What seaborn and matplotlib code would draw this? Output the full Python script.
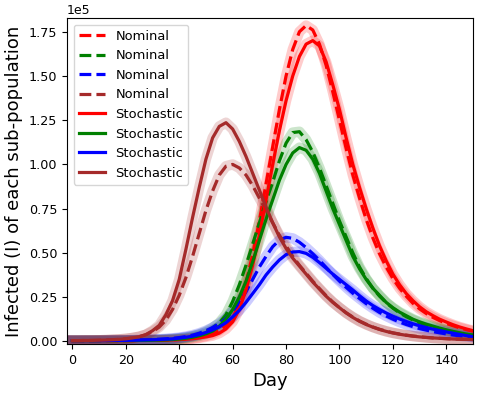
import numpy as np
import matplotlib
matplotlib.use('Agg')
import matplotlib.pyplot as plt
import seaborn as sns
from matplotlib.ticker import MultipleLocator

# days sampled every 2.5, values in units of 1e5 people
days = np.arange(0, 150.1, 2.5)
SCALE = 1e5

red_nominal = [0.004, 0.004, 0.004, 0.004, 0.004, 0.004, 0.004, 0.004, 0.004, 0.004,
               0.005, 0.005, 0.006, 0.006, 0.007, 0.008, 0.010, 0.013, 0.017, 0.022,
               0.030, 0.042, 0.062, 0.092, 0.135, 0.21, 0.33, 0.49, 0.68, 0.89,
               1.10, 1.31, 1.50, 1.65, 1.75, 1.785, 1.76, 1.68, 1.56, 1.41,
               1.25, 1.09, 0.94, 0.81, 0.69, 0.585, 0.495, 0.42, 0.355, 0.30,
               0.255, 0.215, 0.183, 0.157, 0.135, 0.117, 0.101, 0.088, 0.076, 0.066,
               0.057]
green_nominal = [0.004, 0.004, 0.004, 0.004, 0.004, 0.004, 0.004, 0.004, 0.004, 0.005,
                 0.005, 0.006, 0.007, 0.008, 0.010, 0.012, 0.016, 0.021, 0.029, 0.040,
                 0.055, 0.076, 0.105, 0.15, 0.225, 0.32, 0.43, 0.55, 0.67, 0.79,
                 0.90, 1.02, 1.12, 1.18, 1.185, 1.14, 1.07, 0.98, 0.88, 0.78,
                 0.68, 0.59, 0.50, 0.42, 0.355, 0.30, 0.255, 0.218, 0.187, 0.161,
                 0.139, 0.121, 0.105, 0.091, 0.079, 0.069, 0.060, 0.052, 0.045, 0.039,
                 0.034]
blue_nominal = [0.004, 0.004, 0.004, 0.004, 0.004, 0.005, 0.005, 0.005, 0.006, 0.007,
                0.008, 0.009, 0.010, 0.012, 0.014, 0.017, 0.021, 0.027, 0.035, 0.046,
                0.060, 0.078, 0.10, 0.13, 0.17, 0.22, 0.28, 0.35, 0.42, 0.48,
                0.535, 0.572, 0.588, 0.582, 0.56, 0.53, 0.495, 0.458, 0.418, 0.378,
                0.34, 0.305, 0.272, 0.242, 0.213, 0.187, 0.163, 0.143, 0.125, 0.109,
                0.095, 0.083, 0.072, 0.063, 0.055, 0.048, 0.042, 0.036, 0.031, 0.027,
                0.023]
brown_nominal = [0.004, 0.004, 0.005, 0.005, 0.006, 0.007, 0.009, 0.011, 0.014, 0.019,
                 0.026, 0.037, 0.055, 0.08, 0.12, 0.18, 0.26, 0.36, 0.48, 0.61,
                 0.74, 0.85, 0.94, 0.99, 1.00, 0.98, 0.94, 0.88, 0.81, 0.74,
                 0.67, 0.60, 0.54, 0.48, 0.43, 0.385, 0.34, 0.298, 0.258, 0.222,
                 0.19, 0.162, 0.137, 0.115, 0.097, 0.081, 0.068, 0.057, 0.048, 0.041,
                 0.035, 0.030, 0.026, 0.022, 0.019, 0.017, 0.015, 0.013, 0.012, 0.011,
                 0.010]

red_stoch = [0.004, 0.004, 0.004, 0.004, 0.004, 0.004, 0.004, 0.004, 0.004, 0.004,
             0.005, 0.005, 0.006, 0.006, 0.007, 0.008, 0.010, 0.012, 0.015, 0.019,
             0.025, 0.032, 0.046, 0.07, 0.11, 0.18, 0.29, 0.43, 0.60, 0.80,
             1.00, 1.19, 1.36, 1.50, 1.61, 1.68, 1.70, 1.67, 1.58, 1.45,
             1.31, 1.15, 1.00, 0.87, 0.75, 0.64, 0.54, 0.455, 0.38, 0.32,
             0.27, 0.23, 0.195, 0.167, 0.145, 0.125, 0.109, 0.094, 0.081, 0.07,
             0.06]
green_stoch = [0.004, 0.004, 0.004, 0.004, 0.004, 0.004, 0.004, 0.004, 0.004, 0.004,
               0.005, 0.005, 0.006, 0.007, 0.008, 0.010, 0.013, 0.017, 0.023, 0.031,
               0.042, 0.058, 0.085, 0.125, 0.18, 0.25, 0.34, 0.45, 0.57, 0.69,
               0.80, 0.91, 1.00, 1.065, 1.095, 1.08, 1.03, 0.95, 0.85, 0.75,
               0.66, 0.57, 0.48, 0.41, 0.35, 0.30, 0.26, 0.22, 0.19, 0.165,
               0.145, 0.125, 0.11, 0.097, 0.086, 0.075, 0.065, 0.056, 0.048, 0.041,
               0.035]
blue_stoch = [0.004, 0.004, 0.004, 0.004, 0.004, 0.004, 0.005, 0.005, 0.005, 0.006,
              0.007, 0.008, 0.009, 0.010, 0.012, 0.014, 0.018, 0.023, 0.029, 0.038,
              0.050, 0.065, 0.082, 0.105, 0.138, 0.175, 0.22, 0.27, 0.32, 0.375,
              0.42, 0.46, 0.49, 0.505, 0.507, 0.497, 0.475, 0.445, 0.413, 0.38,
              0.35, 0.32, 0.29, 0.258, 0.228, 0.202, 0.18, 0.16, 0.142, 0.126,
              0.112, 0.099, 0.088, 0.078, 0.069, 0.061, 0.053, 0.046, 0.039, 0.032,
              0.026]
brown_stoch = [0.004, 0.004, 0.005, 0.005, 0.006, 0.007, 0.009, 0.011, 0.014, 0.019,
               0.026, 0.038, 0.06, 0.09, 0.15, 0.23, 0.35, 0.52, 0.70, 0.87,
               1.03, 1.15, 1.215, 1.236, 1.20, 1.13, 1.045, 0.95, 0.855, 0.76,
               0.67, 0.59, 0.525, 0.47, 0.425, 0.38, 0.335, 0.295, 0.255, 0.22,
               0.19, 0.16, 0.135, 0.113, 0.095, 0.08, 0.067, 0.056, 0.047, 0.04,
               0.034, 0.029, 0.025, 0.022, 0.019, 0.017, 0.015, 0.013, 0.012, 0.011,
               0.010]

colors = ['red', 'green', 'blue', 'brown']
nominal = [red_nominal, green_nominal, blue_nominal, brown_nominal]
stochastic = [red_stoch, green_stoch, blue_stoch, brown_stoch]

fig = plt.figure(figsize=(4.79, 3.94), dpi=100)
ax = fig.add_axes([0.14, 0.127, 0.8475, 0.827])

# light spread band behind every curve
for group in (nominal, stochastic):
    for series, c in zip(group, colors):
        sns.lineplot(x=days, y=np.array(series) * SCALE, color=c, lw=7.5, alpha=0.2, ax=ax)

for series, c in zip(nominal, colors):
    sns.lineplot(x=days, y=np.array(series) * SCALE, color=c, lw=2.3, linestyle='--',
                 label='Nominal', ax=ax)
for series, c in zip(stochastic, colors):
    sns.lineplot(x=days, y=np.array(series) * SCALE, color=c, lw=2.3, linestyle='-',
                 label='Stochastic', ax=ax)

ax.set_xlim(-2, 150)
ax.set_ylim(-1500, 182700)
ax.yaxis.set_major_locator(MultipleLocator(25000))
ax.ticklabel_format(axis='y', style='sci', scilimits=(0, 0))
ax.yaxis.get_offset_text().set_fontsize(9)
ax.tick_params(labelsize=9.2)
ax.set_xlabel('Day', fontsize=13)
ax.set_ylabel('Infected (I) of each sub-population', fontsize=13)
ax.legend(loc='upper left', fontsize=9.4)

plt.savefig('out.png', dpi=100)
plt.close()
